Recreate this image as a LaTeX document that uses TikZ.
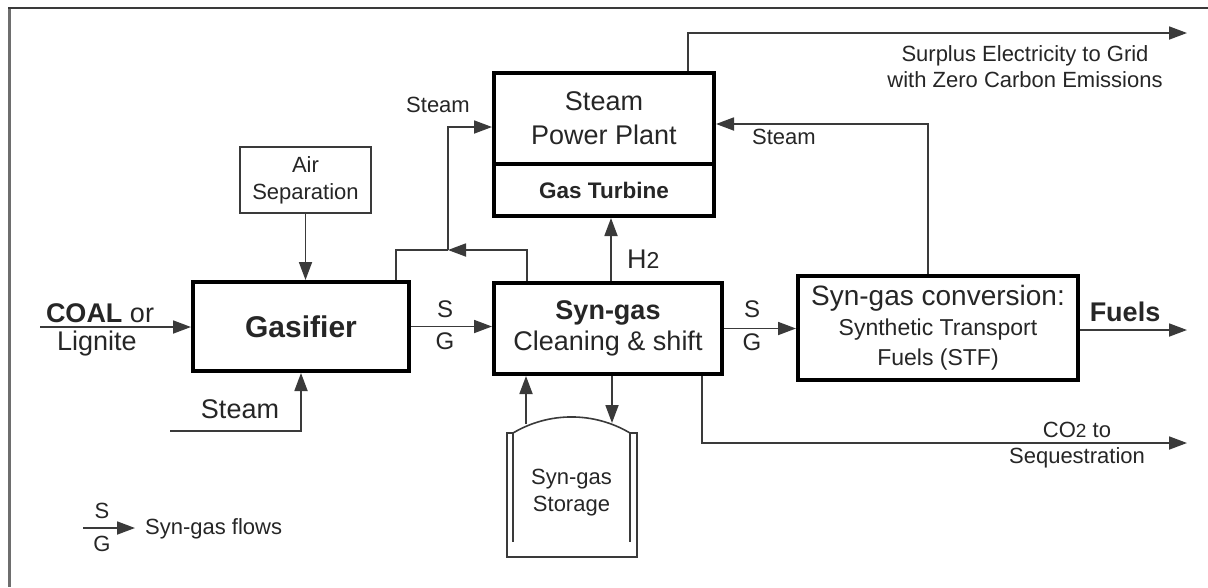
\documentclass[tikz,border=0pt]{standalone}
\usepackage{fontspec}
\setmainfont{Liberation Sans}
\usetikzlibrary{arrows.meta,calc}
\definecolor{ink}{HTML}{262626}
\definecolor{ln}{HTML}{3A3A3A}
\definecolor{framec}{HTML}{6E6E6E}
\begin{document}
\begin{tikzpicture}[x=1pt,y=-1pt,
  thickbox/.style={draw=black, line width=4pt, rectangle, inner sep=0pt, align=center, text=ink},
  thinbox/.style={draw=ln, line width=1.6pt, rectangle, inner sep=0pt, align=center, text=ink},
  flow/.style={draw=ln, line width=1.8pt, -{Triangle[length=18pt,width=13pt]}},
  plain/.style={draw=ln, line width=1.8pt},
  lbl/.style={text=ink, inner sep=0pt, align=center},
  bigf/.style={font=\fontsize{27}{34}\selectfont},
  smallf/.style={font=\fontsize{22}{27}\selectfont},
]
\useasboundingbox (0,0) rectangle (1208,587);
\fill[white] (0,0) rectangle (1208,587);
% frame
\draw[framec, line width=3pt] (9,7) -- (9,587);
\draw[ln, line width=2pt] (8,8) -- (1208,8);

% boxes
\node[thinbox, smallf, minimum width=131pt, minimum height=66pt] (air) at (305.5,180) {Air\\Separation};
\node[thickbox, font=\fontsize{30}{34}\selectfont\bfseries, minimum width=216pt, minimum height=89pt] (gas) at (301,326.5) {Gasifier};
\node[thickbox, font=\fontsize{27}{31}\selectfont, minimum width=228pt, minimum height=91pt] (syn) at (608,328.5) {\textbf{Syn-gas}\\Cleaning \& shift};
\node[thickbox, bigf, minimum width=220pt, minimum height=91pt] (pptop) at (604,118.5) {Steam\\Power Plant};
\node[thickbox, font=\fontsize{22.5}{27}\selectfont\bfseries, minimum width=220pt, minimum height=52pt] (gt) at (604,190) {Gas Turbine};
\node[thickbox, font=\fontsize{23}{30}\selectfont, minimum width=280pt, minimum height=104pt] (conv) at (938,328) {{\fontsize{28}{30}\selectfont Syn-gas conversion:}\\Synthetic Transport\\Fuels (STF)};

% storage tank
\node[lbl, smallf, minimum width=117pt, minimum height=120pt] (tank) at (571.5,493) {Syn-gas\\Storage};
\draw[ln, line width=1.6pt] (513,433) .. controls (549,411.6) and (594,411.6) .. (630,433);
\draw[ln, line width=1.6pt] (513,433) -- (507,433) -- (507,557) -- (637,557) -- (637,433) -- (630,433);
\draw[ln, line width=1.6pt] (513,433) -- (513,542);
\draw[ln, line width=1.6pt] (630,433) -- (630,542);

% coordinates
\coordinate (coalin) at (40,327);
\coordinate (stin) at (170,431);
\coordinate (j1) at (527,250);
\coordinate (j2) at (448,250);
\coordinate (j3) at (396,250);
\coordinate (k) at (448,127);
\coordinate (h2x) at (611,0);
\coordinate (e1) at (688,33);
\coordinate (eout) at (1187,33);
\coordinate (s1) at (928,124);
\coordinate (c1) at (702,443);
\coordinate (cout) at (1187,443);
\coordinate (fout) at (1187,330);
\coordinate (tup) at (526,424);
\coordinate (tdn) at (612,423);
\coordinate (lg1) at (83,528);
\coordinate (lg2) at (135,528);

% connectors
\draw[flow] (coalin) -- (coalin -| gas.west);
\draw[flow] (air.south) -- (air.south |- gas.north);
\draw[flow] (stin) -| (gas.south);
\draw[flow] (gas.east) -- (gas.east -| syn.west);
\draw[flow] (syn.east) -- (syn.east -| conv.west);
\draw[flow] (conv.east |- fout) -- (fout);
\draw[flow] (syn.north -| j1) |- (j2);
\draw[plain] (j2) -- (j3) -- (j3 |- gas.north);
\draw[flow] (j2) -- (k) -- (k -| pptop.west);
\draw[flow] (syn.north -| h2x) -- (gt.south -| h2x);
\draw[flow] (pptop.north -| e1) -- (e1) -- (eout);
\draw[flow] (conv.north -| s1) -- (s1) -- (s1 -| pptop.east);
\draw[flow] (syn.south -| c1) -- (c1) -- (cout);
\draw[flow] (tup) -- (syn.south -| tup);
\draw[flow] (syn.south -| tdn) -- (tdn);
\draw[flow] (lg1) -- (lg2);

% labels
\node[lbl, smallf, anchor=base] (lsteam1) at (438,112) {Steam};
\node[lbl, smallf, anchor=base west] (lsteam2) at (752,144) {Steam};
\node[lbl, smallf, anchor=base] (lsur1) at (1025,61) {Surplus Electricity to Grid};
\node[lbl, smallf, anchor=base] (lsur2) at (1025,87) {with Zero Carbon Emissions};
\node[lbl, bigf, anchor=base] (lcoal) at (100,322) {\textbf{COAL} or};
\node[lbl, bigf, anchor=base] (llig) at (97,350) {Lignite};
\node[lbl, bigf, anchor=base] (lsteam3) at (240,418) {Steam};
\node[lbl, font=\fontsize{24}{27}\selectfont, anchor=base] (ls1) at (445,317) {S};
\node[lbl, font=\fontsize{24}{27}\selectfont, anchor=base] (lg1t) at (445,349) {G};
\node[lbl, font=\fontsize{24}{27}\selectfont, anchor=base] (ls2) at (752,317) {S};
\node[lbl, font=\fontsize{24}{27}\selectfont, anchor=base] (lg2t) at (752,350) {G};
\node[lbl, bigf, anchor=base west] (lh2) at (627,268) {H{\fontsize{23}{27}\selectfont 2}};
\node[lbl, font=\fontsize{27}{30}\selectfont\bfseries, anchor=base] (lfuel) at (1125,321) {Fuels};
\node[lbl, smallf, anchor=base] (lco2) at (1077,437) {CO{\fontsize{19}{27}\selectfont 2} to};
\node[lbl, smallf, anchor=base] (lseq) at (1077,463) {Sequestration};
\node[lbl, font=\fontsize{22}{24}\selectfont, anchor=base] (lgs) at (102,518) {S};
\node[lbl, font=\fontsize{22}{24}\selectfont, anchor=base] (lgg) at (102,551) {G};
\node[lbl, smallf, anchor=base west] (lgt) at (145,534) {Syn-gas flows};
\end{tikzpicture}
\end{document}
